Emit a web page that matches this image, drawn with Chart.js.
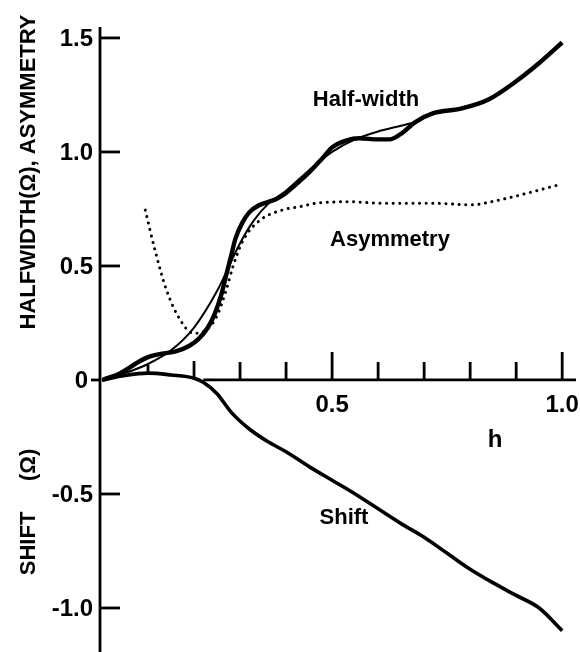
<!DOCTYPE html>
<html>
<head>
<meta charset="utf-8">
<script src="https://cdn.jsdelivr.net/npm/chart.js@4"></script>
<style>
html,body{margin:0;padding:0;background:#fff;}
#wrap{width:580px;height:652px;}
</style>
</head>
<body>
<div id="wrap"><canvas id="c" width="580" height="652"></canvas></div>
<script>
// ---- data ----
const halfWidthH     = [0,0.04,0.08,0.1,0.13,0.16,0.19,0.21,0.23,0.245,0.26,0.27,0.28,0.29,0.305,0.32,0.34,0.36,0.38,0.4,0.42,0.45,0.48,0.5,0.53,0.56,0.6,0.625,0.65,0.68,0.72,0.78,0.84,0.9,0.95,1.0];
const halfWidthThick = [0,0.03,0.08,0.1,0.115,0.125,0.15,0.18,0.23,0.29,0.38,0.46,0.54,0.62,0.69,0.735,0.765,0.78,0.795,0.82,0.855,0.91,0.975,1.02,1.05,1.06,1.055,1.055,1.08,1.13,1.17,1.19,1.23,1.31,1.39,1.48];
const halfWidthThinH = [0,0.05,0.1,0.15,0.2,0.25,0.3,0.33,0.36,0.4,0.45,0.5,0.55,0.6,0.65,0.68];
const halfWidthThin  = [0,0.03,0.07,0.13,0.23,0.39,0.6,0.7,0.77,0.83,0.92,1.0,1.055,1.09,1.115,1.13];
const asymH = [0.094,0.115,0.14,0.17,0.198,0.227,0.249,0.27,0.285,0.307,0.343,0.393,0.43,0.467,0.502,0.532,0.611,0.72,0.8,0.865,0.937,1.0];
const asymV = [0.745,0.57,0.395,0.263,0.205,0.22,0.278,0.395,0.5,0.614,0.7,0.746,0.76,0.776,0.78,0.782,0.775,0.775,0.768,0.79,0.826,0.86];
const shiftH = [0,0.05,0.1,0.15,0.2,0.22,0.25,0.28,0.32,0.36,0.4,0.45,0.5,0.55,0.6,0.65,0.7,0.75,0.8,0.85,0.9,0.95,1.0];
const shiftV = [0,0.02,0.03,0.022,0.008,-0.01,-0.06,-0.14,-0.215,-0.27,-0.315,-0.38,-0.44,-0.5,-0.565,-0.63,-0.69,-0.76,-0.83,-0.89,-0.945,-1.0,-1.1];
const yTicks = [1.5,1.0,0.5,0,-0.5,-1.0];
const yTickLabels = ['1.5','1.0','0.5','0','-0.5','-1.0'];
const xTicks = [0.1,0.2,0.3,0.4,0.5,0.6,0.7,0.8,0.9,1.0];
const xTickLabels = {0.5:'0.5',1.0:'1.0'};

const pts = (xs, ys) => xs.map((x,i)=>({x:x,y:ys[i]}));
const FONT = '"Liberation Sans", Arial, sans-serif';

const axesPlugin = {
  id:'axesPlugin',
  afterDatasetsDraw(chart){
    const ctx = chart.ctx, xs = chart.scales.x, ys = chart.scales.y;
    const X = v=>xs.getPixelForValue(v), Y = v=>ys.getPixelForValue(v);
    ctx.save();
    ctx.strokeStyle='#000'; ctx.fillStyle='#000'; ctx.lineCap='butt';
    // y axis
    const ax = X(0)-2;
    ctx.lineWidth=2.8;
    ctx.beginPath(); ctx.moveTo(ax, chart.chartArea.top); ctx.lineTo(ax, chart.chartArea.bottom); ctx.stroke();
    ctx.font='bold 24px '+FONT; ctx.textAlign='right'; ctx.textBaseline='middle';
    yTicks.forEach((t,i)=>{
      const y = Y(t);
      if (t===0){
        ctx.beginPath(); ctx.moveTo(ax-9,y); ctx.lineTo(ax,y); ctx.stroke();
        ctx.fillText(yTickLabels[i], ax-12, y+1);
      } else {
        ctx.beginPath(); ctx.moveTo(ax,y); ctx.lineTo(ax+20,y); ctx.stroke();
        ctx.fillText(yTickLabels[i], ax-7, y+1);
      }
    });
    // x axis
    const y0 = Y(0);
    ctx.beginPath(); ctx.moveTo(X(0.22), y0); ctx.lineTo(chart.chartArea.right, y0); ctx.stroke();
    xTicks.forEach(t=>{
      const x = X(t);
      let top = y0-18, bot = y0;
      if (t===0.5 || t===1.0) top = y0-28;
      if (t===0.1){ top = y0-15; bot = y0-7; }
      if (t===0.2){ top = y0-19; bot = y0-3; }
      ctx.beginPath(); ctx.moveTo(x,top); ctx.lineTo(x,bot); ctx.stroke();
    });
    ctx.textAlign='center'; ctx.textBaseline='middle';
    Object.keys(xTickLabels).forEach(k=>{
      ctx.fillText(xTickLabels[k], X(parseFloat(k)), y0+25);
    });
    // annotations
    ctx.font='bold 24px '+FONT;
    ctx.fillText('h', 495, 440);
    ctx.font='bold 22px '+FONT;
    ctx.fillText('Half-width', 366, 100);
    ctx.fillText('Asymmetry', 390, 240);
    ctx.fillText('Shift', 344, 518);
    // rotated axis titles
    ctx.font='bold 22px '+FONT;
    ctx.save(); ctx.translate(29, 172); ctx.rotate(-Math.PI/2);
    ctx.fillText('HALFWIDTH(Ω), ASYMMETRY', 0, 0); ctx.restore();
    ctx.save(); ctx.translate(29, 512); ctx.rotate(-Math.PI/2);
    ctx.fillText('SHIFT     (Ω)', 0, 0); ctx.restore();
    ctx.restore();
  }
};

new Chart(document.getElementById('c'), {
  type:'line',
  data:{datasets:[
    {label:'Half-width', data:pts(halfWidthH, halfWidthThick), borderColor:'#000', borderWidth:4.4, pointRadius:0, cubicInterpolationMode:'monotone', fill:false},
    {label:'Half-width (smooth)', data:pts(halfWidthThinH, halfWidthThin), borderColor:'#000', borderWidth:2, pointRadius:0, cubicInterpolationMode:'monotone', fill:false},
    {label:'Asymmetry', data:pts(asymH, asymV), borderColor:'#000', borderWidth:3, borderDash:[0.1,6.5], borderCapStyle:'round', pointRadius:0, cubicInterpolationMode:'monotone', fill:false},
    {label:'Shift', data:pts(shiftH, shiftV), borderColor:'#000', borderWidth:3.6, pointRadius:0, cubicInterpolationMode:'monotone', fill:false}
  ]},
  options:{
    responsive:false, animation:false, events:[],
    layout:{padding:{left:102, right:4, top:27, bottom:0}},
    plugins:{legend:{display:false}, tooltip:{enabled:false}, title:{display:false}},
    scales:{
      x:{type:'linear', min:0, max:1.03, display:false},
      y:{type:'linear', min:-1.193, max:1.548, display:false}
    }
  },
  plugins:[axesPlugin]
});
</script>
</body>
</html>
